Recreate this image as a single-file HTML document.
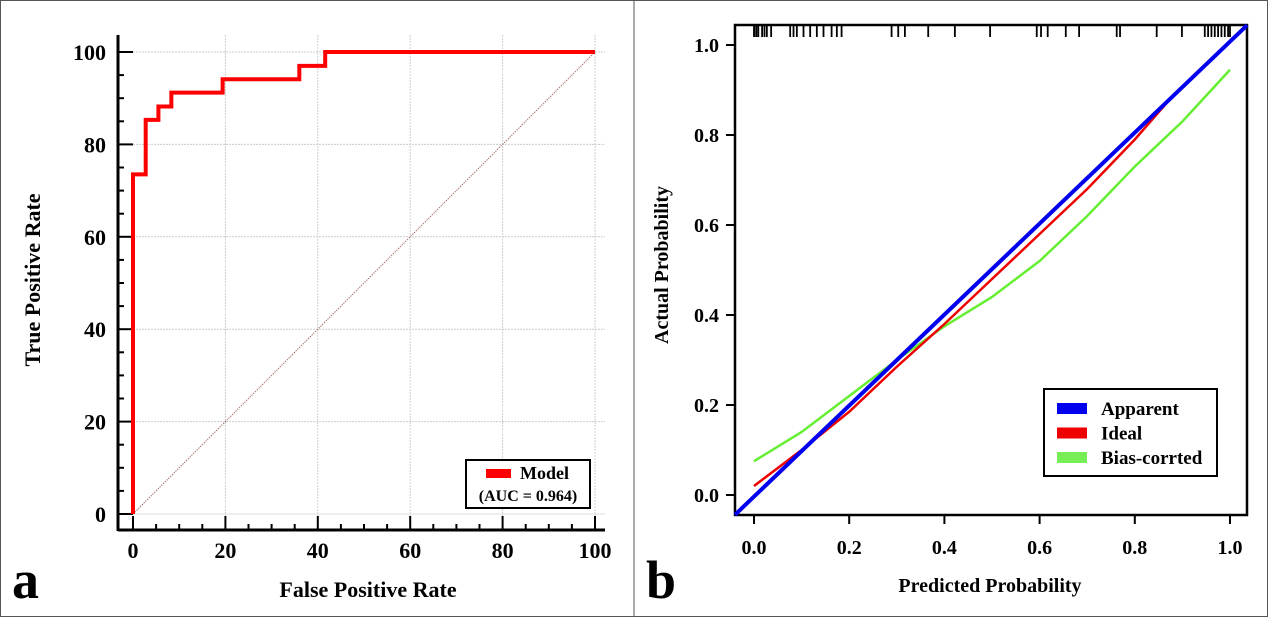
<!DOCTYPE html>
<html><head><meta charset="utf-8"><style>
html,body{margin:0;padding:0;background:#fff}
svg{display:block;font-family:"Liberation Serif",serif;font-weight:bold}
</style></head><body>
<svg id="fig" width="1268" height="617" viewBox="0 0 1268 617" xmlns="http://www.w3.org/2000/svg">
<rect x="0.5" y="0.5" width="1267" height="616" fill="#fff" stroke="#555"/>
<line x1="634" y1="0" x2="634" y2="617" stroke="#555"/>
<g id="left"></g>
<g id="right"></g>
<text x="12" y="598" font-size="54">a</text>
<text x="646" y="598" font-size="54">b</text>
</svg>
<script>
// ROC data
const rocFpr = [0,0,2.75,2.75,5.5,5.5,8.3,8.3,19.4,19.4,36,36,41.6,41.6,100];
const rocTpr = [0,73.5,73.5,85.3,85.3,88.2,88.2,91.2,91.2,94.1,94.1,97,97,100,100];
const rocTicks = [0,20,40,60,80,100];
// Calibration data
const calX = [0,0.1,0.2,0.3,0.4,0.5,0.6,0.7,0.8,0.87];
const idealY = [0.02,0.1,0.185,0.285,0.38,0.48,0.58,0.68,0.79,0.875];
const biasX = [0,0.1,0.2,0.3,0.4,0.5,0.6,0.7,0.8,0.9,1.0];
const biasY = [0.075,0.14,0.22,0.30,0.375,0.44,0.52,0.62,0.73,0.83,0.945];
const apparentX = [-0.04,1.036];
const apparentY = [-0.044,1.044];
const calTicks = [0,0.2,0.4,0.6,0.8,1.0];
const rugP = [0,0.0007,0.005,0.009,0.017,0.022,0.027,0.036,0.076,0.083,0.09,0.104,0.118,0.132,0.146,0.163,0.174,0.184,0.289,0.303,0.317,0.366,0.422,0.496,0.594,0.603,0.617,0.655,0.683,0.762,0.769,0.846,0.899,0.947,0.954,0.961,0.968,0.975,0.982,0.989,0.996,1.0];

const NS="http://www.w3.org/2000/svg";
function mk(parent,tag,attrs,text){const e=document.createElementNS(NS,tag);for(const k in attrs)e.setAttribute(k,attrs[k]);if(text!==undefined)e.textContent=text;parent.appendChild(e);return e;}

// ---- Left ROC ----
const L=document.getElementById('left');
const lx=v=>133+v*(595-133)/100, ly=v=>514-v*(514-52)/100;
for(const t of rocTicks){ if(t===0)continue;
 let g=mk(L,'line',{x1:lx(t),y1:35,x2:lx(t),y2:530,stroke:'#ccc','stroke-width':1,'stroke-dasharray':'2,1'});
 
 
 let h=mk(L,'line',{x1:118,y1:ly(t),x2:605,y2:ly(t),stroke:'#ccc','stroke-width':1,'stroke-dasharray':'2,1'});
 
 
}
let h0=mk(L,'line',{x1:118,y1:ly(0),x2:605,y2:ly(0),stroke:'#ddd','stroke-width':1});


let diag=mk(L,'line',{x1:lx(0),y1:ly(0),x2:lx(100),y2:ly(100),stroke:'#b07070','stroke-width':1,'stroke-dasharray':'1.5,1'});


let ax=mk(L,'line',{x1:118,y1:530,x2:605,y2:530,stroke:'#000','stroke-width':3});


let ay=mk(L,'line',{x1:118,y1:35,x2:118,y2:531,stroke:'#000','stroke-width':3});


for(let v=0;v<=100;v+=5){const major=v%20===0;
 let t=mk(L,'line',{x1:lx(v),y1:530,x2:lx(v),y2:major?516:524,stroke:'#000','stroke-width':2});
 
 
 let u=mk(L,'line',{x1:118,y1:ly(v),x2:major?133:124,y2:ly(v),stroke:'#000','stroke-width':2});
 
 
}
for(const t of rocTicks){
 let a=mk(L,'text',{x:lx(t),y:558,'font-size':22,'text-anchor':'middle'},String(t));
 
 
 let b=mk(L,'text',{x:106,y:ly(t)+8,'font-size':22,'text-anchor':'end'},String(t));
 
 
}
let pts=rocFpr.map((f,i)=>lx(f)+','+ly(rocTpr[i])).join(' ');
let roc=mk(L,'polyline',{points:pts,fill:'none',stroke:'#f00','stroke-width':4});


let xt=mk(L,'text',{x:368,y:597,'font-size':22,'text-anchor':'middle'},'False Positive Rate');


let yt=mk(L,'text',{x:0,y:0,'font-size':22,'text-anchor':'middle',transform:'translate(40,280) rotate(-90)'},'True Positive Rate');


let lg=mk(L,'g',{});


mk(lg,'rect',{x:466,y:460,width:124,height:48,fill:'#fff',stroke:'#000','stroke-width':2});
let sw=mk(lg,'rect',{x:486,y:469,width:25,height:9,fill:'#f00'});


mk(lg,'text',{x:520,y:479,'font-size':18},'Model');
mk(lg,'text',{x:528,y:501,'font-size':16,'text-anchor':'middle'},'(AUC = 0.964)');

// ---- Right calibration ----
const R=document.getElementById('right');
const rx=v=>754+v*(1230-754), ry=v=>495-v*(495-45);
let box=mk(R,'rect',{x:735,y:25,width:512,height:490,fill:'none',stroke:'#000','stroke-width':2.5});


for(const t of calTicks){
 let a=mk(R,'line',{x1:rx(t),y1:515,x2:rx(t),y2:524,stroke:'#000','stroke-width':2});
 
 
 let b=mk(R,'line',{x1:726,y1:ry(t),x2:735,y2:ry(t),stroke:'#000','stroke-width':2});
 
 
 let c=mk(R,'text',{x:rx(t),y:554,'font-size':20,'text-anchor':'middle'},t.toFixed(1));
 
 
 let d=mk(R,'text',{x:719,y:ry(t)+7,'font-size':20,'text-anchor':'end'},t.toFixed(1));
 
 
}
for(const p of rugP){
 let r=mk(R,'line',{x1:rx(p),y1:25,x2:rx(p),y2:37,stroke:'#000','stroke-width':1.8});
 
 
}
let gl=mk(R,'polyline',{points:biasX.map((x,i)=>rx(x)+','+ry(biasY[i])).join(' '),fill:'none',stroke:'#66ee33','stroke-width':2.5});


let rl=mk(R,'polyline',{points:calX.map((x,i)=>rx(x)+','+ry(idealY[i])).join(' '),fill:'none',stroke:'#e00','stroke-width':2.5});


let bl=mk(R,'line',{x1:rx(apparentX[0]),y1:ry(apparentY[0]),x2:rx(apparentX[1]),y2:ry(apparentY[1]),stroke:'#0000ee','stroke-width':4});


let px=mk(R,'text',{x:990,y:592,'font-size':20,'text-anchor':'middle'},'Predicted Probability');


let py=mk(R,'text',{x:0,y:0,'font-size':20,'text-anchor':'middle',transform:'translate(668,265) rotate(-90)'},'Actual Probability');


let rg=mk(R,'g',{});


mk(rg,'rect',{x:1044,y:389,width:173,height:87,fill:'#fff',stroke:'#000','stroke-width':2});
const legItems=[['Apparent','#0000ee'],['Ideal','#e00'],['Bias-corrted','#77ee55']];
legItems.forEach((it,i)=>{
 const y=408+i*24.5;
 let s=mk(rg,'rect',{x:1057,y:y-5,width:30,height:11,fill:it[1]});
 
 
 let t=mk(rg,'text',{x:1101,y:y+7,'font-size':19},it[0]);
 
 
});
</script>
</body></html>
